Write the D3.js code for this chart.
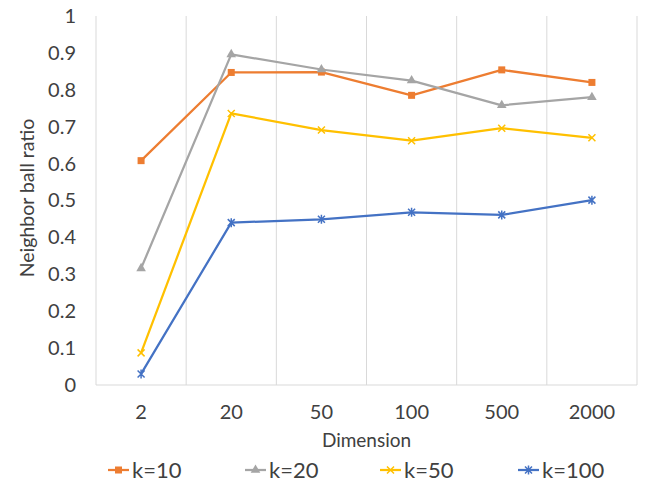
<!DOCTYPE html>
<html>
<head>
<meta charset="utf-8">
<script src="https://cdn.jsdelivr.net/npm/d3@7"></script>
<style>
  body { margin: 0; background: #fff; }
  text { font-family: Lato, "Open Sans", sans-serif; fill: #404040; }
</style>
</head>
<body>
<div id="chart"></div>
<script>
// Daten
const dimensions = ["2", "20", "50", "100", "500", "2000"];
const seriesNames = ["k=10", "k=20", "k=50", "k=100"];
const k10 = [0.608, 0.847, 0.848, 0.785, 0.854, 0.820];
const k20 = [0.316, 0.896, 0.855, 0.825, 0.758, 0.780];
const k50 = [0.087, 0.736, 0.691, 0.662, 0.696, 0.670];
const k100 = [0.030, 0.440, 0.449, 0.468, 0.461, 0.501];
const yTicks = [0, 0.1, 0.2, 0.3, 0.4, 0.5, 0.6, 0.7, 0.8, 0.9, 1];

const colors = ["#ED7D31", "#A5A5A5", "#FFC000", "#4472C4"];
const markers = ["square", "triangle", "x", "star"];
const series = [k10, k20, k50, k100].map((vals, i) => ({
  name: seriesNames[i], values: vals, color: colors[i], marker: markers[i]
}));

const width = 652, height = 491;
const plot = {left: 96, right: 637, top: 16, bottom: 385};

const svg = d3.select("#chart").append("svg")
  .attr("width", width)
  .attr("height", height);

const x = d3.scaleBand().domain(dimensions).range([plot.left, plot.right]);
const y = d3.scaleLinear().domain([0, 1]).range([plot.bottom, plot.top]);

// vertikale Rasterlinien
const bounds = dimensions.map(d => x(d)).concat([plot.right]);
svg.selectAll(".grid")
  .data(bounds)
  .enter().append("line")
  .attr("x1", d => d).attr("x2", d => d)
  .attr("y1", plot.top).attr("y2", plot.bottom)
  .attr("stroke", "#d9d9d9")
  .attr("stroke-width", 1);

// x-Achse
const xAxis = svg.append("g")
  .attr("transform", `translate(0,${plot.bottom})`)
  .call(d3.axisBottom(x).tickSize(0).tickPadding(20));
xAxis.select(".domain").attr("stroke", "#d9d9d9").attr("d", `M${plot.left},0H${plot.right}`);
xAxis.selectAll("text").style("font-size", "20px").attr("fill", "#404040")
  .style("font-family", "Lato, 'Open Sans', sans-serif");

// y-Achse
const yAxis = svg.append("g")
  .attr("transform", `translate(${plot.left - 20},0)`)
  .call(d3.axisLeft(y).tickValues(yTicks).tickSize(0).tickPadding(0).tickFormat(d3.format("~g")));
yAxis.select(".domain").remove();
yAxis.selectAll("text").style("font-size", "20px").attr("fill", "#404040")
  .style("font-family", "Lato, 'Open Sans', sans-serif");

// Achsenbeschriftung
svg.append("text")
  .attr("x", (plot.left + plot.right) / 2)
  .attr("y", 447)
  .attr("text-anchor", "middle")
  .style("font-size", "19px")
  .text("Dimension");

svg.append("text")
  .attr("transform", "rotate(-90)")
  .attr("x", -198)
  .attr("y", 34)
  .attr("text-anchor", "middle")
  .style("font-size", "19.5px")
  .text("Neighbor ball ratio");

// Marker zeichnen
function drawMarker(g, type, color) {
  if (type === "square") {
    g.append("rect").attr("x", -3.5).attr("y", -3.5).attr("width", 7).attr("height", 7)
      .attr("fill", color);
  } else if (type === "triangle") {
    g.append("path").attr("d", d3.symbol(d3.symbolTriangle, 40)()).attr("fill", color);
  } else if (type === "x") {
    g.append("path").attr("d", "M-3.5,-3.5L3.5,3.5M-3.5,3.5L3.5,-3.5")
      .attr("stroke", color).attr("stroke-width", 1.5).attr("fill", "none");
  } else {
    g.append("path").attr("d", "M-3.5,-3.5L3.5,3.5M-3.5,3.5L3.5,-3.5M0,-4.5L0,4.5")
      .attr("stroke", color).attr("stroke-width", 1.5).attr("fill", "none");
  }
}

const line = d3.line()
  .x((d, i) => x(dimensions[i]) + x.bandwidth() / 2)
  .y(d => y(d));

series.forEach(s => {
  svg.append("path")
    .datum(s.values)
    .attr("fill", "none")
    .attr("stroke", s.color)
    .attr("stroke-width", 2.25)
    .attr("stroke-linejoin", "round")
    .attr("d", line);

  s.values.forEach((v, i) => {
    const g = svg.append("g")
      .attr("transform", `translate(${x(dimensions[i]) + x.bandwidth() / 2},${y(v)})`);
    drawMarker(g, s.marker, s.color);
  });
});

// Legende
const legendX = [108, 245, 380, 518];
series.forEach((s, i) => {
  const g = svg.append("g").attr("transform", `translate(${legendX[i]},470)`);
  g.append("line").attr("x1", 0).attr("x2", 21).attr("y1", 0).attr("y2", 0)
    .attr("stroke", s.color).attr("stroke-width", 2.25);
  const m = g.append("g").attr("transform", "translate(10.5,0)");
  drawMarker(m, s.marker, s.color);
  g.append("text")
    .attr("x", 24)
    .attr("y", 0)
    .attr("dy", "0.35em")
    .style("font-size", "22px")
    .text(s.name);
});
</script>
</body>
</html>
